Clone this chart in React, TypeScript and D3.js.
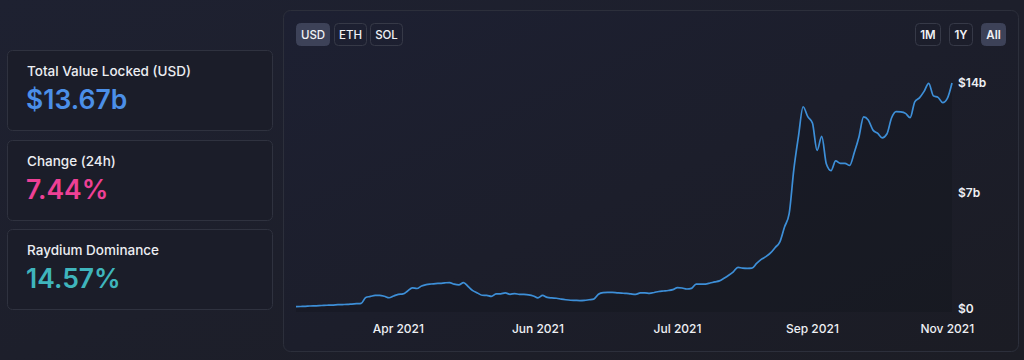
import * as d3 from "d3";

// TVL in billions USD, one value per sample along the chart
const tvl = [
  0.14, 0.15, 0.16, 0.18, 0.19, 0.2, 0.22, 0.23, 0.24, 0.26,
  0.27, 0.28, 0.3, 0.32, 0.34, 0.7, 0.76, 0.83, 0.83, 0.77,
  0.68, 0.79, 0.88, 0.91, 1.09, 1.28, 1.24, 1.39, 1.47, 1.51,
  1.54, 1.55, 1.58, 1.6, 1.5, 1.46, 1.6, 1.36, 1.11, 0.97,
  0.83, 0.82, 0.76, 0.91, 0.92, 0.97, 0.89, 0.93, 0.89, 0.88,
  0.85, 0.79, 0.67, 0.82, 0.7, 0.67, 0.65, 0.6, 0.56, 0.53,
  0.52, 0.51, 0.52, 0.56, 0.6, 0.89, 0.99, 1.0, 1.0, 0.98,
  0.96, 0.94, 0.91, 0.89, 0.97, 0.98, 0.95, 1.0, 1.06, 1.09,
  1.12, 1.17, 1.29, 1.27, 1.21, 1.25, 1.51, 1.51, 1.51, 1.57,
  1.64, 1.7, 1.86, 2.04, 2.25, 2.52, 2.47, 2.46, 2.47, 2.76,
  3.0, 3.17, 3.39, 3.72, 4.06, 4.96, 5.77, 8.43, 10.44, 12.23,
  11.63, 11.25, 9.59, 10.44, 8.77, 8.37, 8.96, 8.81, 8.81, 8.68,
  9.46, 10.4, 11.62, 11.43, 10.83, 10.63, 10.35, 10.58, 11.55, 11.94,
  11.92, 11.83, 11.57, 12.53, 12.77, 13.16, 13.65, 12.89, 12.8, 12.48,
  12.74, 13.67,
];

const xTickIndex = [22, 52, 82, 111, 140];
const xTickLabels = ["Apr 2021", "Jun 2021", "Jul 2021", "Sep 2021", "Nov 2021"];
const yTicks = [0, 7, 14];

const stats = [
  { title: "Total Value Locked (USD)", value: "$13.67b", color: "#4b8fe8" },
  { title: "Change (24h)", value: "7.44%", color: "#ee4095" },
  { title: "Raydium Dominance", value: "14.57%", color: "#3fb5bc" },
];

const currencies = ["USD", "ETH", "SOL"];
const ranges = ["1M", "1Y", "All"];

export default function App() {
  const width = 1024;
  const height = 360;

  const x = d3.scaleLinear().domain([0, tvl.length - 1]).range([296, 952]);
  const y = d3.scaleLinear().domain([0, 14]).range([309, 77.5]);

  const line = d3.line<number>()
    .x((d, i) => x(i))
    .y(d => y(d))
    .curve(d3.curveMonotoneX);

  const area = d3.area<number>()
    .x((d, i) => x(i))
    .y0(y(0) + 3)
    .y1(d => y(d))
    .curve(d3.curveMonotoneX);

  const font = "Inter, 'Noto Sans', sans-serif";

  // button widths
  const curX = [296, 334, 370];
  const curW = [33, 32, 32];
  const rngX = [915, 949, 981];
  const rngW = [25, 23, 24];

  return (
    <svg width={width} height={height}
      style={{ position: "absolute", left: 0, top: 0, display: "block" }}
      fontFamily={font}>
      <defs>
        <linearGradient id="bg" x1="0" y1="0" x2="1" y2="1">
          <stop offset="0" stopColor="#1e2131" />
          <stop offset="1" stopColor="#1c1d25" />
        </linearGradient>
        <linearGradient id="panel" x1="0" y1="0" x2="1" y2="1">
          <stop offset="0" stopColor="#1d2032" />
          <stop offset="1" stopColor="#1b1c24" />
        </linearGradient>
      </defs>
      <rect width={width} height={height} fill="url(#bg)" />

      {/* stat cards */}
      {stats.map((s, i) => {
        const top = [50, 140, 229][i];
        return (
          <g key={s.title}>
            <rect x={7.5} y={top + 0.5} width={265} height={80} rx={5}
              fill="#1b1d29" stroke="#2f323f" />
            <text x={27} y={top + 26} fill="#ecedf2" fontSize={13.5} fontWeight={500}>{s.title}</text>
            <text x={26} y={top + 59} fill={s.color} fontSize={26.5} fontWeight={600}>{s.value}</text>
          </g>
        );
      })}

      {/* chart panel */}
      <rect x={283.5} y={10.5} width={735} height={341} rx={7}
        fill="url(#panel)" stroke="#2c2f3b" />

      {currencies.map((c, i) => (
        <g key={c}>
          <rect x={curX[i] + 0.5} y={23.5} width={curW[i]} height={22} rx={4}
            fill={i === 0 ? "#3d4258" : "none"} stroke={i === 0 ? "#3d4258" : "#363947"} />
          <text x={curX[i] + curW[i] / 2 + 0.5} y={39} textAnchor="middle"
            fill="#f0f1f5" fontSize={11.5} fontWeight={500}>{c}</text>
        </g>
      ))}
      {ranges.map((r, i) => (
        <g key={r}>
          <rect x={rngX[i] + 0.5} y={23.5} width={rngW[i]} height={22} rx={4}
            fill={i === 2 ? "#3d4258" : "none"} stroke={i === 2 ? "#3d4258" : "#363947"} />
          <text x={rngX[i] + rngW[i] / 2 + 0.5} y={39} textAnchor="middle"
            fill="#f0f1f5" fontSize={11.5} fontWeight={600}>{r}</text>
        </g>
      ))}

      <path d={area(tvl) ?? ""} fill="#12141c" opacity={0.3} />
      <path d={line(tvl) ?? ""} fill="none" stroke="#3d8fd8" strokeWidth={1.7}
        strokeLinejoin="round" />

      {/* y axis labels */}
      {yTicks.map(t => (
        <text key={t} x={958} y={Math.max(y(t), 83)} dy="0.35em"
          fill="#eef0f4" fontSize={12} fontWeight={600}>
          {t === 0 ? "$0" : `$${t}b`}
        </text>
      ))}

      {/* x axis labels */}
      {xTickIndex.map((idx, i) => (
        <text key={xTickLabels[i]} x={x(idx)} y={329} dy="0.35em" textAnchor="middle"
          fill="#eef0f4" fontSize={12} fontWeight={500}>
          {xTickLabels[i]}
        </text>
      ))}
    </svg>
  );
}
